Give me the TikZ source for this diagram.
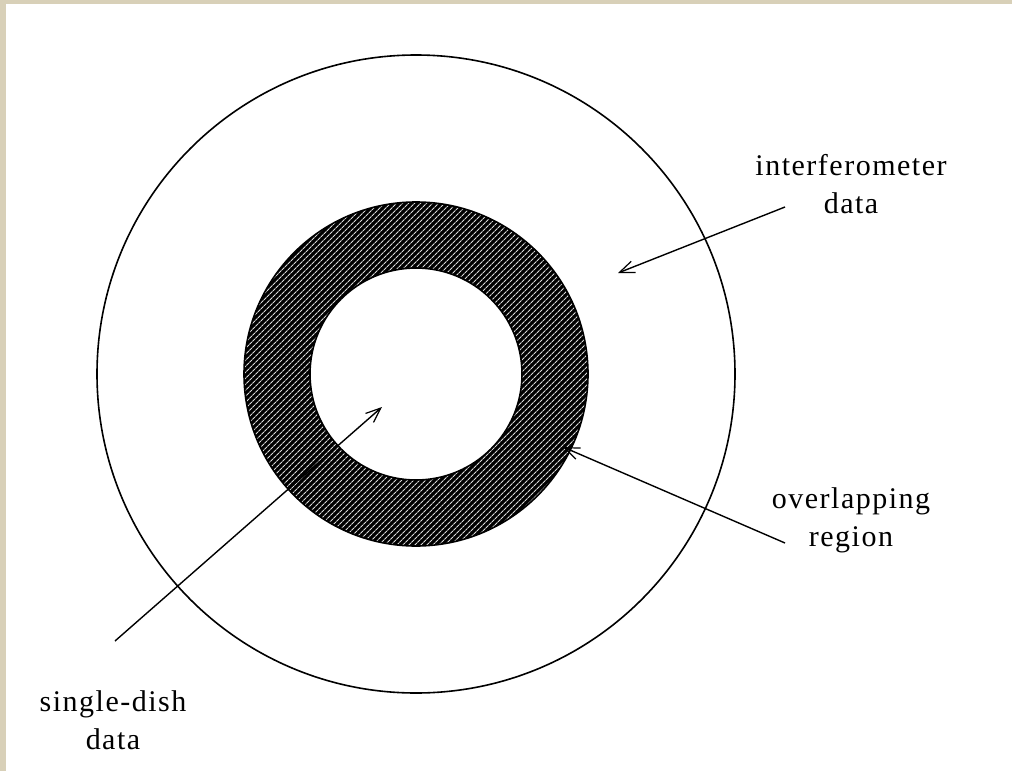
\documentclass[tikz,border=0pt]{standalone}
\usepackage{fontspec}
\setmainfont{Liberation Serif}
\usetikzlibrary{arrows.meta,patterns.meta}
\definecolor{framebeige}{HTML}{D8D0B8}
\tikzset{
  ring/.style={draw=black, line width=1.6pt},
  pointer/.style={draw=black, line width=1.4pt, -{Straight Barb[length=15pt,width=12pt,line width=1.2pt]}},
  label/.style={align=center, inner sep=0pt, font=\fontsize{30}{38}\selectfont\addfontfeature{LetterSpace=5}},
}
\begin{document}
\begin{tikzpicture}[x=1pt,y=-1pt]
  % canvas and frame
  \fill[white] (0,0) rectangle (1012,771);
  \fill[framebeige] (0,0) rectangle (6,771);
  \fill[framebeige] (0,0) rectangle (1012,4);
  \useasboundingbox (0,0) rectangle (1012,771);

  \coordinate (c) at (416,374);

  % hatched annulus
  \fill[black, even odd rule] (c) circle[radius=172pt] (c) circle[radius=106pt];
  \path[even odd rule, pattern={Lines[angle=45,distance=4pt,line width=1.2pt]}, pattern color=white!85!black]
    (c) circle[radius=172pt] (c) circle[radius=106pt];
  \draw[ring] (c) circle[radius=172pt];
  \draw[ring] (c) circle[radius=106pt];

  % outer circle
  \draw[ring] (c) circle[radius=319pt];

  % labels
  \node[label] (interf) at (851,184) {interferometer\\data};
  \node[label] (overlap) at (851,520) {overlapping\\region};
  \node[label] (single) at (113,720) {single-dish\\data};

  % pointer ends
  \coordinate (interfStart) at (785,207);
  \coordinate (interfTip) at (618,273);
  \coordinate (overlapStart) at (785,543);
  \coordinate (overlapTip) at (563,447);
  \coordinate (singleStart) at (115,641);
  \coordinate (singleTip) at (382,407);

  \draw[pointer] (interfStart) -- (interfTip);
  \draw[pointer] (overlapStart) -- (overlapTip);
  \draw[pointer] (singleStart) -- (singleTip);
\end{tikzpicture}
\end{document}
